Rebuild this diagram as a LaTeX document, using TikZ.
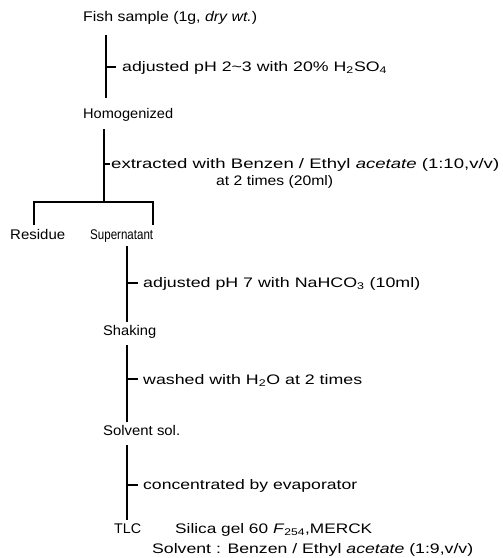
\documentclass[tikz,border=0pt]{standalone}
\usepackage{fontspec}
\usepackage{graphicx}
\setmainfont{Liberation Sans}
\newcommand{\fitw}[2]{\resizebox{#1pt}{\height}{#2}}
\begin{document}
\begin{tikzpicture}[x=1pt,y=-1pt,
  stage/.style={anchor=base west,inner sep=0pt,font=\fontsize{14}{16}\selectfont},
  proc/.style={anchor=base west,inner sep=0pt,font=\fontsize{13.8}{16}\selectfont},
  flow/.style={line width=1.1pt,black}]
\useasboundingbox (0,0) rectangle (503,558);
% stages
\node[stage] (fish) at (83,21) {\fitw{174}{Fish sample (1g, \textit{dry wt.})}};
\node[stage] (homog) at (83,118) {\fitw{90}{Homogenized}};
\node[stage] (resid) at (10,239) {\fitw{55}{Residue}};
\node[stage] (super) at (90,239) {\fitw{63}{Supernatant}};
\node[stage] (shak) at (103,335) {\fitw{53}{Shaking}};
\node[stage] (solv) at (103,435) {\fitw{77}{Solvent sol.}};
\node[stage] (tlc) at (114,533) {\fitw{27}{TLC}};
% process texts
\node[proc] (p1) at (122,71) {\fitw{265}{adjusted pH 2\textasciitilde3 with 20\% H\textsubscript{2}SO\textsubscript{4}}};
\node[proc] (p2) at (111,168) {\fitw{388}{extracted with Benzen / Ethyl \textit{acetate} (1:10,v/v)}};
\node[proc] (p2b) at (216,185) {\fitw{117}{at 2 times (20ml)}};
\node[proc] (p3) at (143,287) {\fitw{277}{adjusted pH 7 with NaHCO\textsubscript{3} (10ml)}};
\node[proc] (p4) at (143,384) {\fitw{219}{washed with H\textsubscript{2}O at 2 times}};
\node[proc] (p5) at (143,489) {\fitw{214}{concentrated by evaporator}};
\node[proc] (silica) at (175,533) {\fitw{197}{Silica gel 60 \textit{F}\textsubscript{254},MERCK}};
\node[proc] (solvt) at (152,553) {\fitw{321}{Solvent : Benzen / Ethyl \textit{acetate} (1:9,v/v)}};
% coordinates
\coordinate (a1) at (106,35); \coordinate (a2) at (106,98);
\coordinate (b1) at (104,129); \coordinate (b2) at (104,202);
\coordinate (bl) at (34,202); \coordinate (br) at (153,202);
\coordinate (bl2) at (34,225); \coordinate (br2) at (153,225);
\coordinate (c1) at (127,246); \coordinate (c2) at (127,322);
\coordinate (d1) at (127,345); \coordinate (d2) at (127,422);
\coordinate (e1) at (127,445); \coordinate (e2) at (127,520);
% lines
\draw[flow] (a1) -- (a2);
\draw[flow] (a1 |- 0,67) -- ([xshift=-6pt]p1.west |- 0,67);
\draw[flow] (b1) -- (b2);
\draw[flow] (b1 |- 0,164) -- ([xshift=-1pt]p2.west |- 0,164);
\draw[flow] (bl2) -- (bl) -- (br) -- (br2);
\draw[flow] (c1) -- (c2);
\draw[flow] (c1 |- 0,283) -- ([xshift=-5pt]p3.west |- 0,283);
\draw[flow] (d1) -- (d2);
\draw[flow] (d1 |- 0,379) -- ([xshift=-5pt]p4.west |- 0,379);
\draw[flow] (e1) -- (e2);
\draw[flow] (e1 |- 0,485) -- ([xshift=-5pt]p5.west |- 0,485);
\end{tikzpicture}
\end{document}
